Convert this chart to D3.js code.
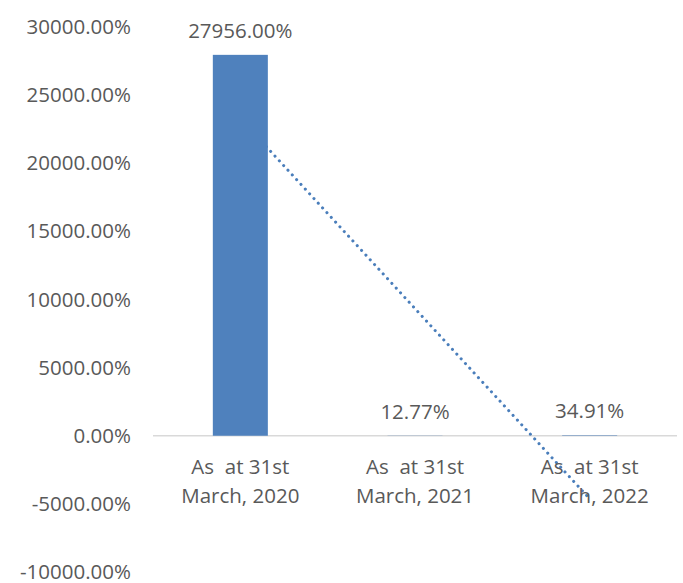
<!DOCTYPE html>
<html>
<head>
<meta charset="utf-8">
<script src="https://cdn.jsdelivr.net/npm/d3@7"></script>
<style>
  body { margin: 0; background: #fff; }
  text { font-family: "Open Sans", sans-serif; fill: #595959; }
</style>
</head>
<body>
<div id="chart"></div>
<script>
// categories (two text lines each)
const categories = ["As  at 31st|March, 2020", "As  at 31st|March, 2021", "As  at 31st|March, 2022"];
// percent values
const values = [27956.00, 12.77, 34.91];
const valueLabels = ["27956.00%", "12.77%", "34.91%"];
// y ticks
const yTicks = [-10000, -5000, 0, 5000, 10000, 15000, 20000, 25000, 30000];

const width = 683, height = 583;
const fontSize = 20.5;

const svg = d3.select('#chart')
  .append('svg')
    .attr('width', width)
    .attr('height', height);

const x = d3.scaleBand()
  .domain(d3.range(categories.length))
  .range([153, 677])
  .paddingInner(0.685)
  .paddingOuter(0.3425);

const y = d3.scaleLinear()
  .domain([-10000, 30000])
  .range([572, 27]);

// plain hyphen for negatives, like the original
const pct = d => d.toFixed(2) + '%';

// y axis labels (no line)
const yAxis = g => g
    .attr('transform', 'translate(139,0)')
    .call(d3.axisLeft(y).tickValues(yTicks).tickSize(0).tickPadding(8).tickFormat(pct))
    .call(g => g.select('.domain').remove())
    .call(g => g.selectAll('text')
      .attr('font-size', fontSize)
      .attr('font-family', '"Open Sans", sans-serif')
      .attr('fill', '#595959'));

svg.append('g').call(yAxis);

// zero line
svg.append('line')
  .attr('x1', x.range()[0]).attr('x2', x.range()[1])
  .attr('y1', y(0)).attr('y2', y(0))
  .attr('stroke', '#d9d9d9')
  .attr('stroke-width', 1.5);

// linear trendline (least squares over the bar values)
const xs = values.map((d, i) => i + 1);
const mx = d3.mean(xs), my = d3.mean(values);
const slope = d3.sum(xs, (xi, i) => (xi - mx) * (values[i] - my)) / d3.sum(xs, xi => (xi - mx) ** 2);
const icpt = my - slope * mx;
const cx = i => x(i) + x.bandwidth() / 2;

svg.append('line')
  .attr('x1', cx(0)).attr('y1', y(icpt + slope * 1))
  .attr('x2', cx(values.length - 1)).attr('y2', y(icpt + slope * values.length))
  .attr('stroke', '#4a7ebb')
  .attr('stroke-width', 3)
  .attr('stroke-linecap', 'round')
  .attr('stroke-dasharray', '0.1 6.3');

// bars
svg.selectAll('rect.bar')
  .data(values)
  .join('rect')
    .attr('class', 'bar')
    .attr('x', (d, i) => x(i))
    .attr('y', d => y(Math.max(0, d)))
    .attr('width', x.bandwidth())
    .attr('height', d => Math.abs(y(d) - y(0)))
    .attr('fill', '#4f81bd');

// value labels
svg.append('g')
  .selectAll('text')
  .data(values)
  .join('text')
    .attr('x', (d, i) => cx(i))
    .attr('y', d => y(Math.max(0, d)) - 17)
    .attr('text-anchor', 'middle')
    .attr('font-size', fontSize)
    .text((d, i) => valueLabels[i]);

// category labels
const cat = svg.append('g')
  .selectAll('text')
  .data(categories)
  .join('text')
    .attr('text-anchor', 'middle')
    .attr('font-size', fontSize)
    .attr('xml:space', 'preserve');

cat.selectAll('tspan')
  .data((d, i) => d.split('|').map(t => ({ t, i })))
  .join('tspan')
    .attr('x', d => cx(d.i))
    .attr('y', (d, j) => 474 + j * 29)
    .text(d => d.t);
</script>
</body>
</html>
